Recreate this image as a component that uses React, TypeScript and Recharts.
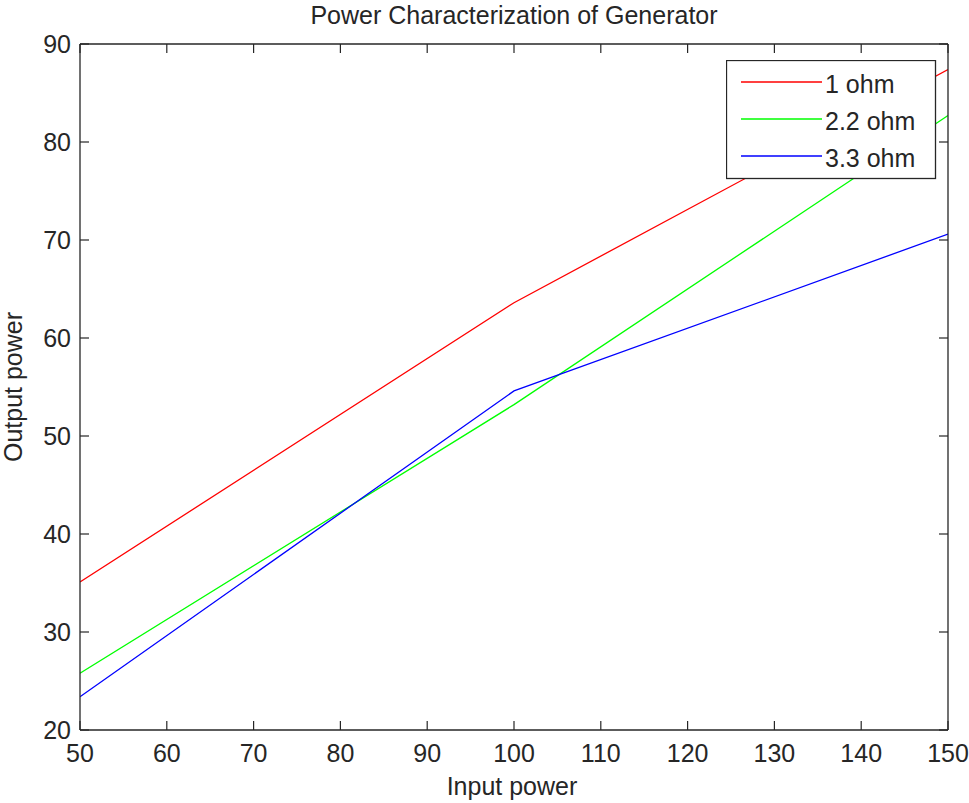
import React from 'react';
import { LineChart, Line, XAxis, YAxis, Legend, Customized } from 'recharts';

const inputPower = [50, 100, 150];
const ohm1 = [35.1, 63.6, 87.4];
const ohm22 = [25.8, 53.2, 82.7];
const ohm33 = [23.4, 54.6, 70.6];
const seriesNames = ['1 ohm', '2.2 ohm', '3.3 ohm'];
const seriesKeys = ['s1', 's2', 's3'];
const seriesColors = ['#ff0000', '#00ff00', '#0000ff'];
const xTicks = [50, 60, 70, 80, 90, 100, 110, 120, 130, 140, 150];
const yTicks = [20, 30, 40, 50, 60, 70, 80, 90];
const titleText = 'Power Characterization of Generator';
const xLabelText = 'Input power';
const yLabelText = 'Output power';

const data = inputPower.map((x, i) => ({ x, s1: ohm1[i], s2: ohm22[i], s3: ohm33[i] }));

const FONT = "'Liberation Sans', Arial, Helvetica, sans-serif";
const AX = '#262626';
const TL = 9;
const FS = 25;

const BottomTick = (p: any) => (
  <g>
    <line x1={p.x} x2={p.x} y1={p.y} y2={p.y - TL} stroke={AX} strokeWidth={1.2} />
    <text x={p.x} y={p.y + 32} textAnchor="middle" fontSize={FS} fontFamily={FONT} fill={AX}>
      {p.payload.value}
    </text>
  </g>
);
const TopTick = (p: any) => (
  <line x1={p.x} x2={p.x} y1={p.y} y2={p.y + TL} stroke={AX} strokeWidth={1.2} />
);
const LeftTick = (p: any) => (
  <g>
    <line x1={p.x} x2={p.x + TL} y1={p.y} y2={p.y} stroke={AX} strokeWidth={1.2} />
    <text x={p.x - 9} y={p.y + 9} textAnchor="end" fontSize={FS} fontFamily={FONT} fill={AX}>
      {p.payload.value}
    </text>
  </g>
);
const RightTick = (p: any) => (
  <line x1={p.x} x2={p.x - TL} y1={p.y} y2={p.y} stroke={AX} strokeWidth={1.2} />
);

const LegendBox = () => (
  <svg width={211} height={120} style={{ display: 'block' }}>
    <rect x={0.5} y={0.5} width={209} height={118} fill="#ffffff" stroke={AX} strokeWidth={1.3} />
    {seriesNames.map((n, i) => (
      <g key={n}>
        <line x1={15} x2={96} y1={22 + i * 37} y2={22 + i * 37} stroke={seriesColors[i]} strokeWidth={1.3} />
        <text x={99} y={33 + i * 37} fontSize={FS} fontFamily={FONT} fill={AX}>
          {n}
        </text>
      </g>
    ))}
  </svg>
);

const Texts = () => (
  <g fontFamily={FONT} fill={AX} fontSize={FS}>
    <text x={514} y={24} textAnchor="middle">{titleText}</text>
    <text x={512} y={795} textAnchor="middle">{xLabelText}</text>
    <text x={21.5} y={387} textAnchor="middle" transform="rotate(-90, 21.5, 387)">{yLabelText}</text>
  </g>
);

export default function App() {
  return (
    <div style={{ width: 969, height: 803, overflow: 'hidden', background: '#ffffff' }}>
      <style>{'html,body{margin:0;padding:0;overflow:hidden;background:#ffffff}'}</style>
      <LineChart
        width={969}
        height={803}
        data={data}
        margin={{ top: 43, right: 20, bottom: 72, left: 79 }}
      >
        <XAxis
          dataKey="x"
          type="number"
          domain={[50, 150]}
          ticks={xTicks}
          allowDataOverflow
          height={1}
          tickSize={0}
          tickMargin={0}
          tickLine={false}
          axisLine={{ stroke: AX, strokeWidth: 1.3 }}
          tick={BottomTick}
          interval={0}
        />
        <XAxis
          xAxisId="top"
          orientation="top"
          dataKey="x"
          type="number"
          domain={[50, 150]}
          ticks={xTicks}
          allowDataOverflow
          height={1}
          tickSize={0}
          tickMargin={0}
          tickLine={false}
          axisLine={{ stroke: AX, strokeWidth: 1.3 }}
          tick={TopTick}
          interval={0}
        />
        <YAxis
          type="number"
          domain={[20, 90]}
          ticks={yTicks}
          allowDataOverflow
          width={1}
          tickSize={0}
          tickMargin={0}
          tickLine={false}
          axisLine={{ stroke: AX, strokeWidth: 1.3 }}
          tick={LeftTick}
          interval={0}
        />
        <YAxis
          yAxisId="right"
          orientation="right"
          type="number"
          domain={[20, 90]}
          ticks={yTicks}
          allowDataOverflow
          width={1}
          tickSize={0}
          tickMargin={0}
          tickLine={false}
          axisLine={{ stroke: AX, strokeWidth: 1.3 }}
          tick={RightTick}
          interval={0}
        />
        {seriesKeys.map((k, i) => (
          <Line
            key={k}
            dataKey={k}
            name={seriesNames[i]}
            type="linear"
            stroke={seriesColors[i]}
            strokeWidth={1.3}
            dot={false}
            activeDot={false}
            isAnimationActive={false}
          />
        ))}
        <Legend
          layout="horizontal"
          verticalAlign="middle"
          align="center"
          content={LegendBox}
          wrapperStyle={{ position: 'absolute', left: 726, top: 60, width: 211, height: 120 }}
        />
        <Customized component={Texts} />
      </LineChart>
    </div>
  );
}
